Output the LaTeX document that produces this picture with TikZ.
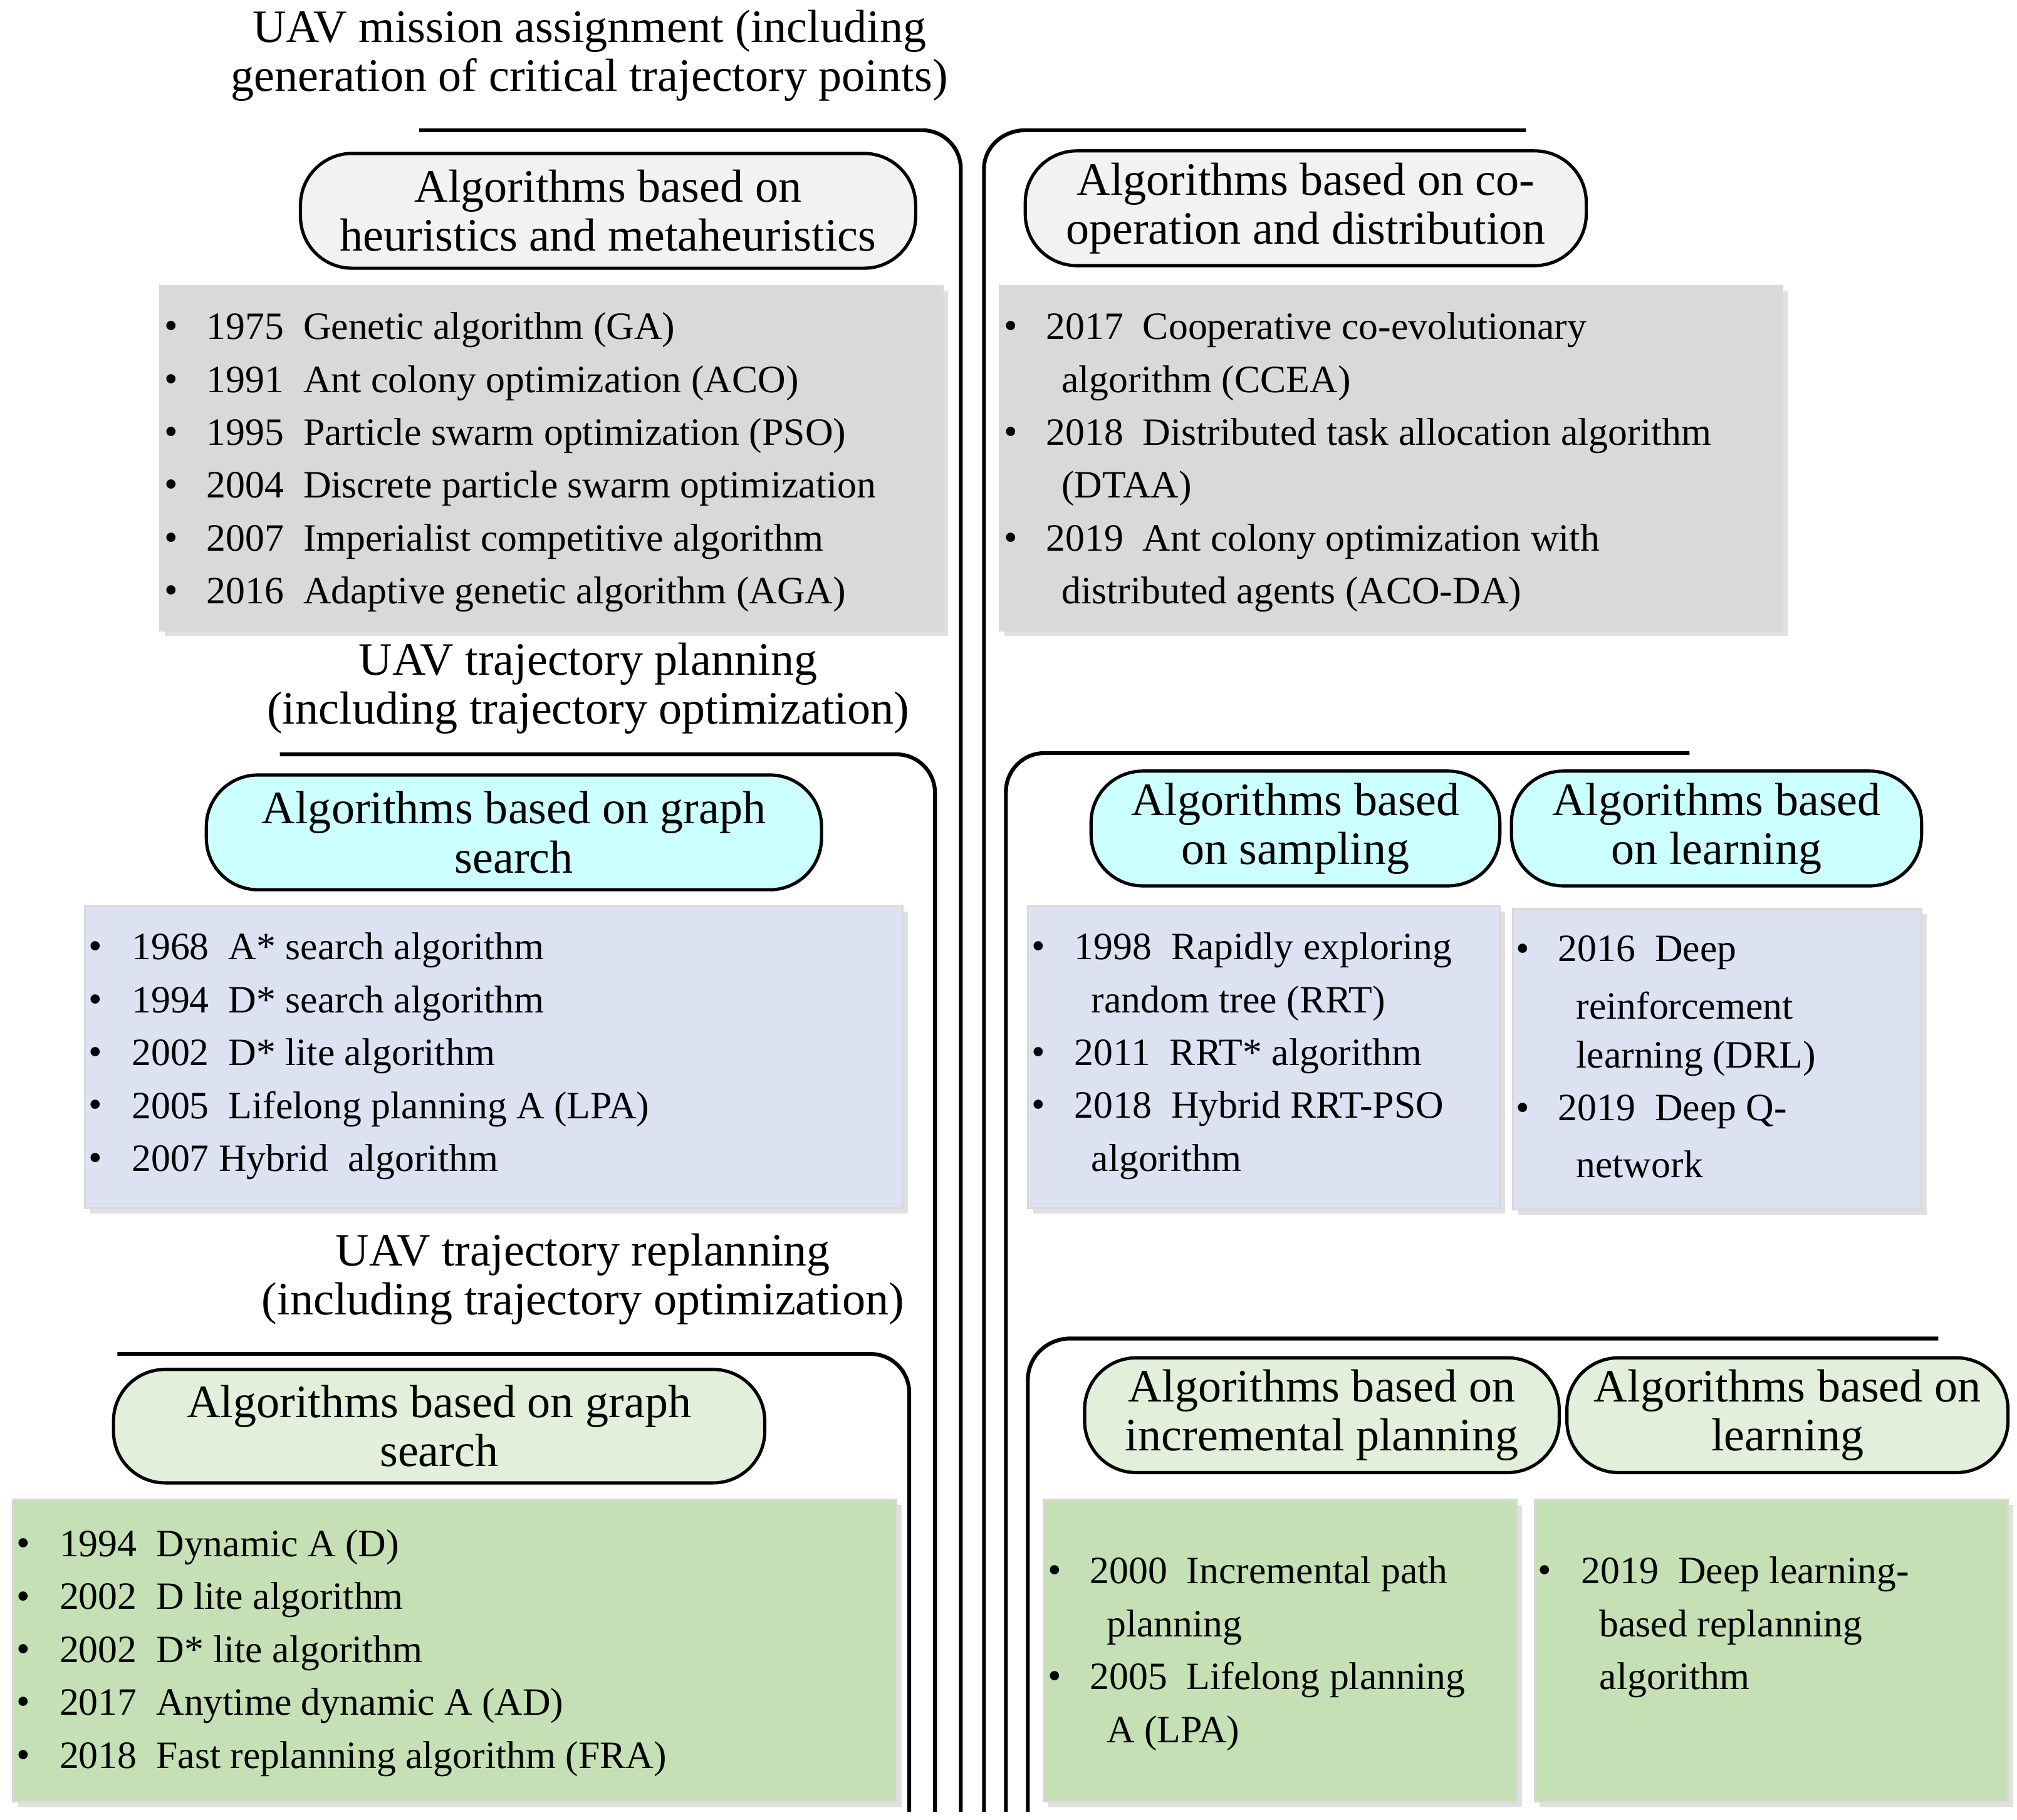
\documentclass[tikz,border=0pt]{standalone}
\usepackage{fontspec}
\setmainfont{Liberation Serif}
\begin{document}
\begin{tikzpicture}[x=1pt,y=-1pt,
 pill/.style={draw=black,line width=2.5pt,rounded corners=40pt,align=center,font=\fontsize{36}{38}\selectfont},
 box/.style={draw=black!15,line width=1.5pt},
 shd/.style={fill=black!12,draw=none},
 brk/.style={line width=3pt},
 ttl/.style={align=center,font=\fontsize{36}{38}\selectfont},
 it/.style={anchor=west,inner sep=0pt,font=\fontsize{30}{32}\selectfont},
 bl/.style={anchor=center,inner sep=0pt,font=\fontsize{30}{32}\selectfont}]
\useasboundingbox (0,0) rectangle (1564,1411);
\newcommand\bx[6]{\fill[shd] (#2+4,#3+4) rectangle (#4+4,#5+4);
 \path[box,fill=#6] (#2,#3) rectangle (#4,#5) node[coordinate,name=#1]{};}
% titles
\node[ttl] (t1) at (457,43) {UAV mission assignment (including\\generation of critical trajectory points)};
\node[ttl] (t2) at (456,534) {UAV trajectory planning\\(including trajectory optimization)};
\node[ttl] (t3) at (452,992) {UAV trajectory replanning\\(including trajectory optimization)};
% brackets
\coordinate (a1) at (325,101); \coordinate (a2) at (745,1405);
\draw[brk] (a1) -- (715,101) to[out=0,in=90] (745,131) -- (a2);
\coordinate (b1) at (1183,101); \coordinate (b2) at (763,1405);
\draw[brk] (b1) -- (795,101) to[out=180,in=90] (763,131) -- (b2);
\coordinate (c1) at (217,585); \coordinate (c2) at (725,1405);
\draw[brk] (c1) -- (695,585) to[out=0,in=90] (725,615) -- (c2);
\coordinate (d1) at (1310,584); \coordinate (d2) at (780,1405);
\draw[brk] (d1) -- (810,584) to[out=180,in=90] (780,614) -- (d2);
\coordinate (e1) at (91,1050); \coordinate (e2) at (705,1405);
\draw[brk] (e1) -- (675,1050) to[out=0,in=90] (705,1080) -- (e2);
\coordinate (f1) at (1503,1038); \coordinate (f2) at (797,1405);
\draw[brk] (f1) -- (830,1038) to[out=180,in=90] (797,1070) -- (f2);
% pills
\newcommand\pl[7]{\node[pill,fill=#6,minimum width=#4-#2,minimum height=#5-#3,inner sep=0pt] (#1) at ({(#2+#4)/2},{(#3+#5)/2}) {#7};}
\definecolor{pg}{HTML}{F2F2F2}\definecolor{bg}{HTML}{D9D9D9}
\definecolor{pc}{HTML}{CCFFFF}\definecolor{bc}{HTML}{DDE2F3}
\definecolor{pgr}{HTML}{E2EFDA}\definecolor{bgr}{HTML}{C5E0B4}
\pl{p1}{233}{119}{710}{208}{pg}{Algorithms based on\\heuristics and metaheuristics}
\pl{p2}{795}{117}{1230}{206}{pg}{Algorithms based on co-\\operation and distribution}
\pl{p3}{160}{601}{637}{690}{pc}{Algorithms based on graph\\search}
\pl{p4}{846}{598}{1163}{687}{pc}{Algorithms based\\on sampling}
\pl{p5}{1172}{598}{1490}{687}{pc}{Algorithms based\\on learning}
\pl{p6}{88}{1062}{593}{1150}{pgr}{Algorithms based on graph\\search}
\pl{p7}{841}{1053}{1209}{1142}{pgr}{Algorithms based on\\incremental planning}
\pl{p8}{1215}{1053}{1557}{1142}{pgr}{Algorithms based on\\learning}
% boxes
\bx{k1}{124}{222}{731}{489}{bg}
\bx{k2}{775}{222}{1382}{489}{bg}
\bx{k3}{66}{703}{700}{937}{bc}
\bx{k4}{797}{703}{1163}{937}{bc}
\bx{k5}{1173}{705}{1490}{938}{bc}
\bx{k6}{10}{1163}{695}{1397}{bgr}
\bx{k7}{809}{1163}{1176}{1397}{bgr}
\bx{k8}{1190}{1163}{1557}{1397}{bgr}
% items
\newcommand\B[3]{\node[bl] (#1) at (#2,#3) {\textbullet};}
\newcommand\T[4]{\node[it] (#1) at (#2,#3) {#4};}
\newcommand\gp{\hspace{0.5em}}
% box1
\B{b11}{133}{256}\T{i11}{160}{256}{1975\gp Genetic algorithm (GA)}
\B{b12}{133}{297}\T{i12}{160}{297}{1991\gp Ant colony optimization (ACO)}
\B{b13}{133}{338}\T{i13}{160}{338}{1995\gp Particle swarm optimization (PSO)}
\B{b14}{133}{379}\T{i14}{160}{379}{2004\gp Discrete particle swarm optimization}
\B{b15}{133}{420}\T{i15}{160}{420}{2007\gp Imperialist competitive algorithm}
\B{b16}{133}{461}\T{i16}{160}{461}{2016\gp Adaptive genetic algorithm (AGA)}
% box2
\B{b21}{784}{256}\T{i21}{811}{256}{2017\gp Cooperative co-evolutionary}
\T{i22}{823}{297}{algorithm (CCEA)}
\B{b23}{784}{338}\T{i23}{811}{338}{2018\gp Distributed task allocation algorithm}
\T{i24}{823}{379}{(DTAA)}
\B{b25}{784}{420}\T{i25}{811}{420}{2019\gp Ant colony optimization with}
\T{i26}{823}{461}{distributed agents (ACO-DA)}
% box3
\B{b31}{74}{737}\T{i31}{102}{737}{1968\gp A* search algorithm}
\B{b32}{74}{778}\T{i32}{102}{778}{1994\gp D* search algorithm}
\B{b33}{74}{819}\T{i33}{102}{819}{2002\gp D* lite algorithm}
\B{b34}{74}{860}\T{i34}{102}{860}{2005\gp Lifelong planning A (LPA)}
\B{b35}{74}{901}\T{i35}{102}{901}{2007 Hybrid\gp algorithm}
% box4
\B{b41}{805}{737}\T{i41}{833}{737}{1998\gp Rapidly exploring}
\T{i42}{846}{778}{random tree (RRT)}
\B{b43}{805}{819}\T{i43}{833}{819}{2011\gp RRT* algorithm}
\B{b44}{805}{860}\T{i44}{833}{860}{2018\gp Hybrid RRT-PSO}
\T{i45}{846}{901}{algorithm}
% box5
\B{b51}{1181}{739}\T{i51}{1208}{739}{2016\gp Deep}
\T{i52}{1222}{780}{reinforcement}
\T{i53}{1222}{821}{learning (DRL)}
\B{b54}{1181}{862}\T{i54}{1208}{862}{2019\gp Deep Q-}
\T{i55}{1222}{903}{network}
% box6
\B{b61}{18}{1200}\T{i61}{46}{1200}{1994\gp Dynamic A (D)}
\B{b62}{18}{1241}\T{i62}{46}{1241}{2002\gp D lite algorithm}
\B{b63}{18}{1282}\T{i63}{46}{1282}{2002\gp D* lite algorithm}
\B{b64}{18}{1323}\T{i64}{46}{1323}{2017\gp Anytime dynamic A (AD)}
\B{b65}{18}{1364}\T{i65}{46}{1364}{2018\gp Fast replanning algorithm (FRA)}
% box7
\B{b71}{818}{1221}\T{i71}{845}{1221}{2000\gp Incremental path}
\T{i72}{858}{1262}{planning}
\B{b73}{818}{1303}\T{i73}{845}{1303}{2005\gp Lifelong planning}
\T{i74}{858}{1344}{A (LPA)}
% box8
\B{b81}{1198}{1221}\T{i81}{1226}{1221}{2019\gp Deep learning-}
\T{i82}{1240}{1262}{based replanning}
\T{i83}{1240}{1303}{algorithm}
\end{tikzpicture}
\end{document}
